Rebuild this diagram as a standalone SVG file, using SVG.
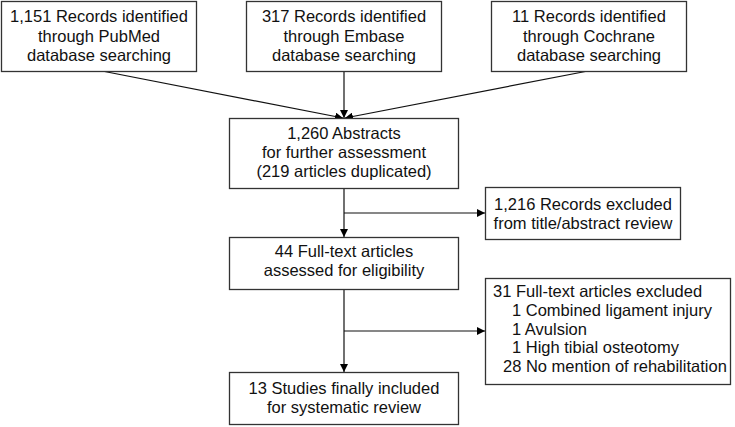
<svg xmlns="http://www.w3.org/2000/svg" width="735" height="427" viewBox="0 0 735 427">
<defs>
<marker id="ah" viewBox="0 0 10 10" refX="10" refY="5" markerWidth="8" markerHeight="8" markerUnits="userSpaceOnUse" orient="auto">
<path d="M0,0 L10,5 L0,10 z" fill="#000"/>
</marker>
<style>
rect{fill:#fff;stroke:#333;stroke-width:1.3}
text{font-family:"Liberation Sans",Arial,sans-serif;font-size:16.5px;fill:#111}
.c{text-anchor:middle}
.e line,.e polyline{stroke:#111;stroke-width:1.2;fill:none}
</style>
</defs>
<rect width="735" height="427" style="fill:#fff;stroke:none"/>
<g class="e" id="connectors">
<line x1="102" y1="71" x2="343" y2="118" marker-end="url(#ah)"/>
<line x1="344" y1="71" x2="344" y2="118" marker-end="url(#ah)"/>
<line x1="588" y1="71" x2="345" y2="118" marker-end="url(#ah)"/>
<line x1="344" y1="189" x2="344" y2="237" marker-end="url(#ah)"/>
<line x1="344" y1="213" x2="485" y2="213" marker-end="url(#ah)"/>
<line x1="344" y1="290" x2="344" y2="372" marker-end="url(#ah)"/>
<line x1="344" y1="331" x2="485" y2="331" marker-end="url(#ah)"/>
</g>
<g id="pubmed">
<rect x="1.5" y="1.5" width="195" height="70"/>
<text class="c" x="99" y="22">1,151 Records identified</text>
<text class="c" x="99" y="41.5">through PubMed</text>
<text class="c" x="99" y="61">database searching</text>
</g>
<g id="embase">
<rect x="246.5" y="1.5" width="195" height="70"/>
<text class="c" x="344" y="22">317 Records identified</text>
<text class="c" x="344" y="41.5">through Embase</text>
<text class="c" x="344" y="61">database searching</text>
</g>
<g id="cochrane">
<rect x="491.5" y="1.5" width="195" height="70"/>
<text class="c" x="589" y="22">11 Records identified</text>
<text class="c" x="589" y="41.5">through Cochrane</text>
<text class="c" x="589" y="61">database searching</text>
</g>
<g id="abstracts">
<rect x="229.5" y="118.5" width="229" height="70"/>
<text class="c" x="344" y="139">1,260 Abstracts</text>
<text class="c" x="344" y="158">for further assessment</text>
<text class="c" x="344" y="177">(219 articles duplicated)</text>
</g>
<g id="excluded1">
<rect x="485.5" y="187.5" width="195" height="52"/>
<text class="c" x="583" y="210">1,216 Records excluded</text>
<text class="c" x="583" y="229">from title/abstract review</text>
</g>
<g id="fulltext">
<rect x="229.5" y="237.5" width="229" height="52"/>
<text class="c" x="344" y="257">44 Full-text articles</text>
<text class="c" x="344" y="276">assessed for eligibility</text>
</g>
<g id="excluded2">
<rect x="485.5" y="278.5" width="245" height="106"/>
<text x="493" y="297">31 Full-text articles excluded</text>
<text x="512" y="316">1 Combined ligament injury</text>
<text x="512" y="334.5">1 Avulsion</text>
<text x="512" y="353">1 High tibial osteotomy</text>
<text x="503" y="371.5">28 No mention of rehabilitation</text>
</g>
<g id="included">
<rect x="229.5" y="372.5" width="229" height="52"/>
<text class="c" x="344" y="394">13 Studies finally included</text>
<text class="c" x="344" y="412.5">for systematic review</text>
</g>
</svg>
